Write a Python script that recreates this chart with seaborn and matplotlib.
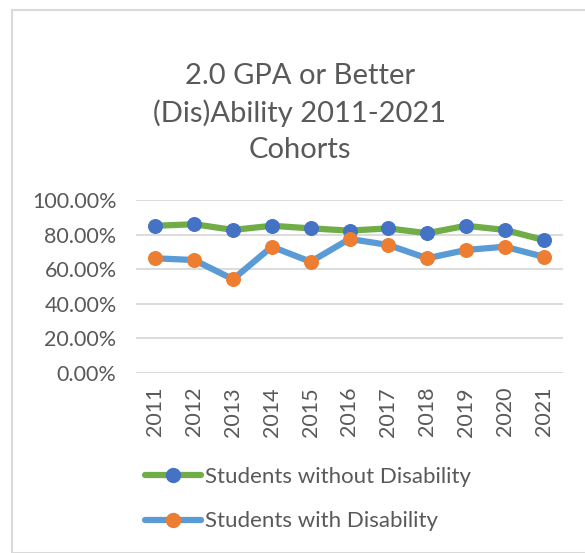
import matplotlib
matplotlib.use("Agg")
import matplotlib.pyplot as plt
import seaborn as sns
import pandas as pd
from matplotlib.lines import Line2D
from matplotlib.patches import Rectangle
from matplotlib.ticker import PercentFormatter

years = [2011, 2012, 2013, 2014, 2015, 2016, 2017, 2018, 2019, 2020, 2021]
without_disability = [85.1, 86.0, 82.7, 85.1, 83.6, 82.3, 83.6, 80.8, 85.1, 82.7, 76.9]
with_disability = [66.3, 65.3, 54.2, 73.0, 64.3, 77.5, 74.0, 66.3, 71.1, 73.0, 67.2]
series_names = ["Students without Disability", "Students with Disability"]
title_text = "2.0 GPA or Better\n(Dis)Ability 2011-2021\nCohorts"

sns.set_theme(style="white")
plt.rcParams['font.family'] = ['Lato', 'DejaVu Sans']

W, H = 585, 553
fig = plt.figure(figsize=(W / 100, H / 100), dpi=100)
fig.patch.set_facecolor("white")

# outer chart border
fig.patches.append(Rectangle((12 / W, 0), 1.0, 1 - 10 / H, transform=fig.transFigure,
                             fill=False, edgecolor="#D9D9D9", linewidth=1.5))

left, right = 136, 563
top, bottom = 200, 373
ax = fig.add_axes([left / W, 1 - bottom / H, (right - left) / W, (bottom - top) / H])

df1 = pd.DataFrame({"year": years, "value": without_disability})
df2 = pd.DataFrame({"year": years, "value": with_disability})

text_col = "#595959"
sns.lineplot(data=df1, x="year", y="value", ax=ax, color="#70AD47", linewidth=4.5,
             marker="o", markersize=10, markerfacecolor="#4472C4", markeredgecolor="#4472C4",
             zorder=3)
sns.lineplot(data=df2, x="year", y="value", ax=ax, color="#5B9BD5", linewidth=4.5,
             marker="o", markersize=10, markerfacecolor="#ED7D31", markeredgecolor="#ED7D31",
             zorder=3)

ax.set_xlim(years[0] - 0.5, years[-1] + 0.5)
ax.set_ylim(0, 100)
ax.set_yticks([0, 20, 40, 60, 80, 100])
ax.yaxis.set_major_formatter(PercentFormatter(100, decimals=2))
ax.set_xticks(years)
ax.set_xticklabels([str(y) for y in years], rotation=90)
ax.tick_params(axis="both", colors=text_col, labelsize=15.5, length=0)
ax.tick_params(axis="y", pad=14)
ax.tick_params(axis="x", pad=10)
ax.set_xlabel("")
ax.set_ylabel("")
ax.grid(axis="y", color="#D9D9D9", linewidth=1.3)
ax.set_axisbelow(True)
for s in ax.spines.values():
    s.set_visible(False)
if ax.get_legend():
    ax.get_legend().remove()

fig.text(300 / W, 1 - 113 / H, title_text, ha="center", va="center", fontsize=21,
         color=text_col, linespacing=1.45)

handles = [
    Line2D([0], [0], color="#70AD47", linewidth=4.5, marker="o", markersize=10,
           markerfacecolor="#4472C4", markeredgecolor="#4472C4"),
    Line2D([0], [0], color="#5B9BD5", linewidth=4.5, marker="o", markersize=10,
           markerfacecolor="#ED7D31", markeredgecolor="#ED7D31"),
]
leg = fig.legend(handles, series_names, loc="center left",
                 bbox_to_anchor=(125 / W, 1 - 499 / H), frameon=False, fontsize=16,
                 handlelength=2.5, handletextpad=0.2, labelspacing=1.12, labelcolor=text_col)

fig.savefig("out.png", dpi=100, facecolor="white")
